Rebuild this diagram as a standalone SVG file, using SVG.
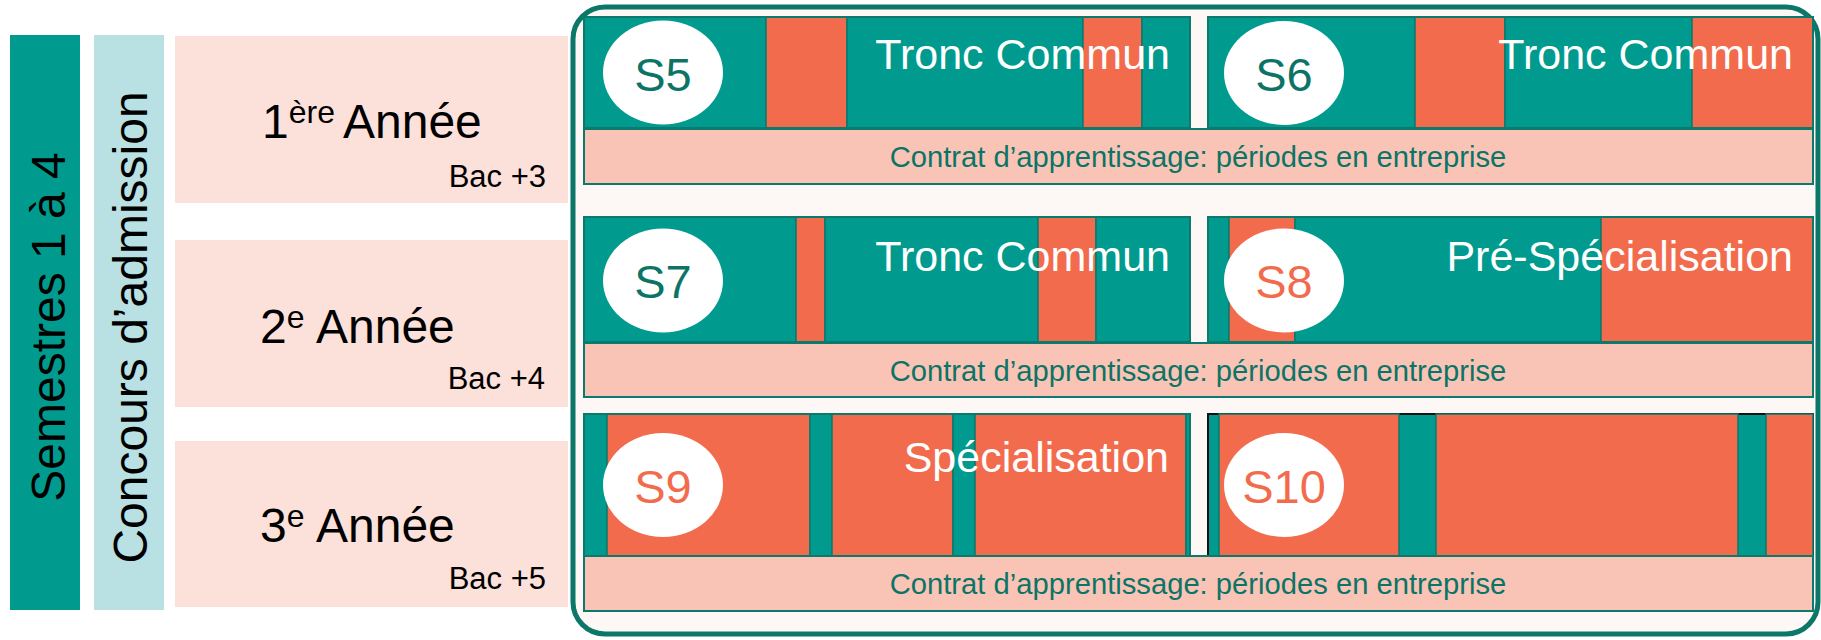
<svg xmlns="http://www.w3.org/2000/svg" width="1821" height="640" viewBox="0 0 1821 640">
<style>
text{font-family:"Liberation Sans",Arial,sans-serif}
.yr{fill:#fce1da}
.big{font-size:48px;fill:#000}
.sup{font-size:32px}
.bac{font-size:31px;fill:#000;text-anchor:end}
.t{fill:#009b8e;stroke:#0b7a6d;stroke-width:1.5}
.o{fill:#f26b4d;stroke:#0b7a6d;stroke-width:1.5}
.box{fill:none;stroke:#0b7a6d;stroke-width:2}
.base10{fill:#009b8e;stroke:#111;stroke-width:2}
.ell{fill:#fff}
.sl{font-size:47px;text-anchor:middle}
.sg{fill:#0b7466}
.so{fill:#f26b4d}
.ttl{font-size:43px;fill:#fff;text-anchor:end}
.ct{fill:#f9c4b6;stroke:#0b7a6d;stroke-width:2}
.ctt{font-size:29.2px;fill:#0b7466;text-anchor:middle}
.vt{font-size:48px;fill:#000;text-anchor:middle}
</style>
<g id="sem-bar"><rect x="10" y="35" width="70" height="575" fill="#009b8e"/><text class="vt" transform="translate(65,327) rotate(-90)">Semestres 1 à 4</text></g>
<g id="concours-bar"><rect x="94" y="35" width="70" height="575" fill="#b9e0e3"/><text class="vt" transform="translate(147,327.5) rotate(-90)">Concours d’admission</text></g>
<g id="annee1"><rect class="yr" x="175" y="36" width="393" height="167"/><text class="big" x="262" y="138">1<tspan class="sup" dy="-15">ère</tspan><tspan x="343" dy="15">Année</tspan></text><text class="bac" x="546" y="187">Bac +3</text></g>
<g id="annee2"><rect class="yr" x="175" y="240" width="393" height="167"/><text class="big" x="260" y="343">2<tspan class="sup" dy="-15">e</tspan><tspan x="316" dy="15">Année</tspan></text><text class="bac" x="545" y="389">Bac +4</text></g>
<g id="annee3"><rect class="yr" x="175" y="441" width="393" height="166"/><text class="big" x="260" y="542">3<tspan class="sup" dy="-15">e</tspan><tspan x="316" dy="15">Année</tspan></text><text class="bac" x="546" y="589">Bac +5</text></g>
<g id="container"><rect x="573" y="7" width="1245" height="627" rx="32" fill="#fdf8f5" stroke="#0b7768" stroke-width="5"/></g>
<g id="S5">
<rect class="t" x="584" y="17" width="182" height="111"/><rect class="o" x="766" y="17" width="81" height="111"/><rect class="t" x="847" y="17" width="236" height="111"/><rect class="o" x="1083" y="17" width="59" height="111"/><rect class="t" x="1142" y="17" width="48" height="111"/>
<rect class="box" x="584" y="17" width="606" height="111"/>
<text class="ttl" x="1170" y="69">Tronc Commun</text>
<ellipse class="ell" cx="663" cy="72.5" rx="60" ry="52"/><text class="sl sg" x="663" y="91">S5</text>
</g>
<g id="S6">
<rect class="t" x="1208" y="17" width="207" height="111"/><rect class="o" x="1415" y="17" width="90" height="111"/><rect class="t" x="1505" y="17" width="187" height="111"/><rect class="o" x="1692" y="17" width="121" height="111"/>
<rect class="box" x="1208" y="17" width="605" height="111"/>
<text class="ttl" x="1793" y="69">Tronc Commun</text>
<ellipse class="ell" cx="1284" cy="73" rx="60" ry="52"/><text class="sl sg" x="1284" y="91">S6</text>
</g>
<g id="contrat1"><rect class="ct" x="584" y="129" width="1229" height="55"/><text class="ctt" x="1198" y="167">Contrat d’apprentissage: périodes en entreprise</text></g>
<g id="S7">
<rect class="t" x="584" y="217" width="212" height="125"/><rect class="o" x="796" y="217" width="29" height="125"/><rect class="t" x="825" y="217" width="213" height="125"/><rect class="o" x="1038" y="217" width="58" height="125"/><rect class="t" x="1096" y="217" width="94" height="125"/>
<rect class="box" x="584" y="217" width="606" height="125"/>
<text class="ttl" x="1170" y="271">Tronc Commun</text>
<ellipse class="ell" cx="663" cy="280.5" rx="60" ry="52"/><text class="sl sg" x="663" y="298">S7</text>
</g>
<g id="S8">
<rect class="t" x="1208" y="217" width="21" height="125"/><rect class="o" x="1229" y="217" width="66" height="125"/><rect class="t" x="1295" y="217" width="306" height="125"/><rect class="o" x="1601" y="217" width="212" height="125"/>
<rect class="box" x="1208" y="217" width="605" height="125"/>
<text class="ttl" x="1793" y="271">Pré-Spécialisation</text>
<ellipse class="ell" cx="1284" cy="280.5" rx="60" ry="52"/><text class="sl so" x="1284" y="298">S8</text>
</g>
<g id="contrat2"><rect class="ct" x="584" y="343" width="1229" height="54"/><text class="ctt" x="1198" y="381">Contrat d’apprentissage: périodes en entreprise</text></g>
<g id="S9">
<rect class="t" x="584" y="414" width="23" height="142"/><rect class="o" x="607" y="414" width="203" height="142"/><rect class="t" x="810" y="414" width="22" height="142"/><rect class="o" x="832" y="414" width="121" height="142"/><rect class="t" x="953" y="414" width="22" height="142"/><rect class="o" x="975" y="414" width="211" height="142"/><rect class="t" x="1186" y="414" width="4" height="142"/>
<rect class="box" x="584" y="414" width="606" height="142"/>
<text class="ttl" x="1169" y="472">Spécialisation</text>
<ellipse class="ell" cx="663" cy="485" rx="60" ry="52"/><text class="sl so" x="663" y="503">S9</text>
</g>
<g id="S10">
<rect class="base10" x="1208" y="414" width="605" height="142"/>
<rect class="o" x="1219" y="414" width="180" height="142"/><rect class="o" x="1436" y="414" width="302" height="142"/><rect class="o" x="1766" y="414" width="47" height="142"/>
<ellipse class="ell" cx="1284" cy="485" rx="60" ry="52"/><text class="sl so" x="1284" y="503">S10</text>
</g>
<g id="contrat3"><rect class="ct" x="584" y="556" width="1229" height="55"/><text class="ctt" x="1198" y="594">Contrat d’apprentissage: périodes en entreprise</text></g>
<g id="connectors"/>
</svg>
